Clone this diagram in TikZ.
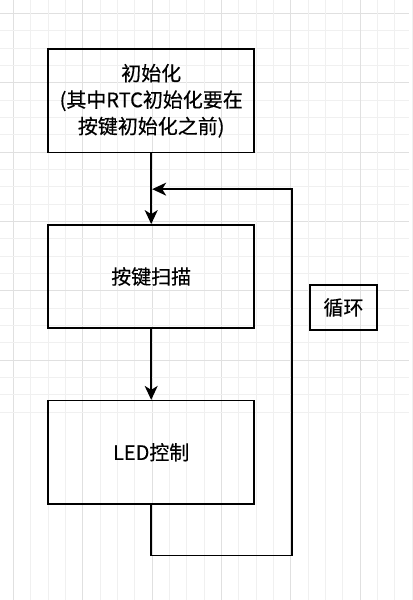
\documentclass[tikz,border=0pt]{standalone}
\usepackage{fontspec}
\setmainfont{Noto Sans CJK SC}[FakeBold=0.4]
\usetikzlibrary{arrows.meta,positioning}

\begin{document}
\begin{tikzpicture}[
    x=1pt,y=-1pt,
    node distance=71pt and 54pt,
    box/.style={draw,line width=1.6pt,minimum width=206.4pt,minimum height=103.4pt,
      align=center,font=\fontsize{20}{26.5}\selectfont},
    tag/.style={draw,line width=1.6pt,minimum width=67.4pt,minimum height=45.4pt,
      font=\fontsize{20}{26.5}\selectfont},
    >={Stealth[length=14pt,width=13pt,inset=4pt]}]
  % background grid
  \fill[white] (0,0) rectangle (409,600);
  \foreach \i in {0,...,23} {
    \pgfmathtruncatemacro{\m}{mod(\i,4)}
    \ifnum\m=0 \def\gc{black!12}\else\def\gc{black!6}\fi
    \draw[\gc,line width=0.8pt] (13+17.35*\i,0) -- (13+17.35*\i,600);
    \draw[\gc,line width=0.8pt] (0,13+17.35*\i) -- (409,13+17.35*\i);
  }
  \useasboundingbox (0,0) rectangle (409,600);

  \node[box] (init) at (151,100.5) {初始化\\(其中RTC初始化要在\\按键初始化之前)};
  \node[box,below=of init] (scan) {按键扫描};
  \node[box,below=of scan] (led) {LED控制};
  \node[tag] (loop) at (343.5,307.5) {循环};

  \coordinate (turn) at (292,556);
  \coordinate (back) at (152,189);
  \draw[->,line width=1.6pt] (init) -- (scan);
  \draw[->,line width=1.6pt] (scan) -- (led);
  \draw[->,line width=1.6pt] (led.south) |- (turn) |- (back);
\end{tikzpicture}
\end{document}
